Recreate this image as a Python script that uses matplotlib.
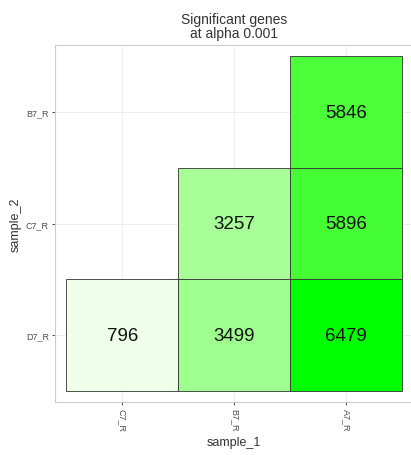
import numpy as np
import matplotlib.pyplot as plt
from matplotlib.colors import LinearSegmentedColormap, Normalize

plt.rcParams['font.family'] = ['Liberation Sans', 'DejaVu Sans']

sample_1 = ['C7_R', 'B7_R', 'A7_R']
sample_2 = ['D7_R', 'C7_R', 'B7_R']
# one entry per tile: (sample_1, sample_2, count)
tile_x = ['C7_R', 'B7_R', 'A7_R', 'B7_R', 'A7_R', 'A7_R']
tile_y = ['D7_R', 'D7_R', 'D7_R', 'C7_R', 'C7_R', 'B7_R']
tile_n = [796, 3499, 6479, 3257, 5896, 5846]

# white -> green, roughly like ggplot's gradient
cmap = LinearSegmentedColormap.from_list(
    'wg', [(0.0, '#ffffff'), (0.123, '#effee8'), (0.5, '#a8ff98'),
           (0.9, '#4cff3a'), (1.0, '#00ff00')])
norm = Normalize(vmin=0, vmax=max(tile_n))

fig = plt.figure(figsize=(4.11, 4.56), dpi=100)
ax = fig.add_axes([0.134, 0.116, 0.872, 0.783])

ax.set_axisbelow(True)
ax.grid(True, color='#ebebeb', linewidth=0.6)

xi = [sample_1.index(s) for s in tile_x]
yi = [sample_2.index(s) for s in tile_y]
ax.bar(xi, 1.0, bottom=np.array(yi) - 0.5, width=1.0,
       color=cmap(norm(tile_n)), edgecolor='#333333', linewidth=0.6, zorder=2)

for x, y, n in zip(xi, yi, tile_n):
    ax.text(x, y, f'{n}', ha='center', va='center',
            fontsize=13.5, color='#111111', zorder=3)

ax.set_xlim(-0.6, 2.6)
ax.set_ylim(-0.6, 2.6)
ax.set_xticks(range(len(sample_1)))
ax.set_xticklabels(sample_1, rotation=-90)
ax.set_yticks(range(len(sample_2)))
ax.set_yticklabels(sample_2)
ax.tick_params(labelsize=6.5, length=2.5, width=0.6, color='#333333',
               labelcolor='#4d4d4d', pad=2)

for s in ax.spines.values():
    s.set_color('#cccccc')
    s.set_linewidth(0.8)

ax.set_xlabel('sample_1', fontsize=9, color='#333333', labelpad=3)
ax.set_ylabel('sample_2', fontsize=9, color='#333333', labelpad=3)
ax.set_title('Significant genes\nat alpha 0.001', fontsize=10, color='#333333',
             pad=6, linespacing=1.0)

fig.savefig('out.png', dpi=100)
